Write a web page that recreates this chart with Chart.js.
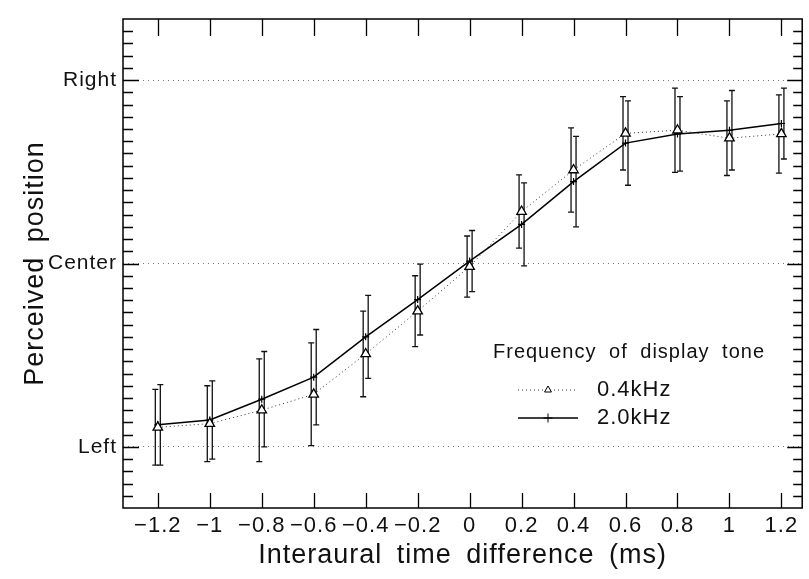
<!DOCTYPE html>
<html><head><meta charset="utf-8">
<script src="https://cdn.jsdelivr.net/npm/chart.js@4/dist/chart.umd.min.js"></script>
<style>html,body{margin:0;padding:0;background:#fff}#wrap{width:809px;height:579px}</style>
</head><body><div id="wrap"><canvas id="c" width="809" height="579"></canvas></div>
<script>
// ---- data ----
const itd = [-1.2, -1, -0.8, -0.6, -0.4, -0.2, 0, 0.2, 0.4, 0.6, 0.8, 1, 1.2];
const pos04 = [-13.4, -13.1, -12.0, -10.7, -7.4, -3.9, -0.25, 4.25, 7.65, 10.65, 10.9, 10.25, 10.6];
const err04 = [3.1, 3.1, 4.2, 4.2, 3.5, 2.9, 2.5, 3.0, 3.45, 3.0, 3.45, 3.05, 3.2];
const pos20 = [-13.2, -12.8, -11.1, -9.3, -6.0, -2.95, 0.2, 3.2, 6.7, 9.85, 10.6, 10.9, 11.45];
const err20 = [3.3, 3.2, 3.9, 3.9, 3.4, 2.9, 2.5, 3.4, 3.7, 3.45, 3.05, 3.25, 2.9];
const seriesNames = ['0.4kHz', '2.0kHz'];
const legendTitle = 'Frequency of display tone';
const xTickValues = [-1.2, -1, -0.8, -0.6, -0.4, -0.2, 0, 0.2, 0.4, 0.6, 0.8, 1, 1.2];
const yLabelValues = [-15, 0, 15];
const yLabelTexts = ['Left', 'Center', 'Right'];
const yMinorStep = 1;
const xTitle = 'Interaural time difference (ms)';
const yTitle = 'Perceived position';

const FONT = "'Liberation Sans', Arial, Helvetica, sans-serif";
const errs = [err04, err20];
const barOffset = [-2.5, 2.5];

function fmtX(v) {
  let r = Math.round(v * 10) / 10;
  let s = String(Math.abs(r));
  return (r < 0 ? '\u2212' : '') + s;
}

const spacingPlugin = {
  id: 'spacing',
  beforeDraw(chart) {
    const ctx = chart.ctx;
    ctx.letterSpacing = '1px';
    ctx.wordSpacing = '6px';
  }
};

const errorBars = {
  id: 'errorBars',
  beforeDatasetsDraw(chart) {
    const ctx = chart.ctx, xs = chart.scales.x, ys = chart.scales.y;
    ctx.save();
    ctx.strokeStyle = '#111';
    ctx.lineWidth = 1.3;
    chart.data.datasets.forEach((ds, di) => {
      ds.data.forEach((p, i) => {
        const px = xs.getPixelForValue(p.x) + barOffset[di];
        const y1 = ys.getPixelForValue(p.y + errs[di][i]);
        const y2 = ys.getPixelForValue(p.y - errs[di][i]);
        ctx.beginPath();
        ctx.moveTo(px, y1); ctx.lineTo(px, y2);
        ctx.moveTo(px - 3, y1); ctx.lineTo(px + 3, y1);
        ctx.moveTo(px - 3, y2); ctx.lineTo(px + 3, y2);
        ctx.stroke();
      });
    });
    ctx.restore();
  }
};

const framePlugin = {
  id: 'frame',
  afterDraw(chart) {
    const ctx = chart.ctx, a = chart.chartArea, xs = chart.scales.x, ys = chart.scales.y;
    ctx.save();
    ctx.strokeStyle = '#000';
    ctx.lineWidth = 1.5;
    ctx.strokeRect(a.left, a.top, a.right - a.left, a.bottom - a.top);
    ctx.lineWidth = 1.3;
    ctx.beginPath();
    for (let v = ys.min + yMinorStep; v < ys.max; v += yMinorStep) {
      const y = Math.round(ys.getPixelForValue(v)) + 0.5;
      const major = yLabelValues.includes(v);
      ctx.moveTo(a.left, y); ctx.lineTo(a.left + (major ? 16 : 10), y);
      ctx.moveTo(a.right, y); ctx.lineTo(a.right - (major ? 15 : 9), y);
    }
    xTickValues.forEach(v => {
      const x = Math.round(xs.getPixelForValue(v)) + 0.5;
      ctx.moveTo(x, a.bottom); ctx.lineTo(x, a.bottom - 15);
      ctx.moveTo(x, a.top); ctx.lineTo(x, a.top + 17);
    });
    ctx.stroke();
    ctx.restore();
  }
};

const legendPlugin = {
  id: 'customLegend',
  afterDraw(chart) {
    const ctx = chart.ctx;
    ctx.save();
    ctx.fillStyle = '#111';
    ctx.textBaseline = 'middle';
    ctx.textAlign = 'left';
    ctx.font = '20px ' + FONT;
    ctx.fillText(legendTitle, 493, 352);
    ctx.font = '22px ' + FONT;
    const rows = [390, 418];
    const legendRadius = [4, 4.5];
    chart.data.datasets.forEach((ds, i) => {
      const y = rows[i];
      ctx.save();
      ctx.strokeStyle = ds.borderColor;
      ctx.lineWidth = ds.borderWidth;
      ctx.setLineDash(ds.borderDash || []);
      ctx.beginPath(); ctx.moveTo(518, y); ctx.lineTo(578, y); ctx.stroke();
      ctx.restore();
      ctx.save();
      ctx.fillStyle = ds.pointBackgroundColor;
      ctx.strokeStyle = ds.pointBorderColor;
      ctx.lineWidth = 1;
      Chart.helpers.drawPoint(ctx, {
        pointStyle: ds.pointStyle, radius: legendRadius[i], rotation: 0, borderWidth: 1
      }, 548, y);
      ctx.restore();
      ctx.fillStyle = '#111';
      ctx.fillText(ds.label, 597, y);
    });
    ctx.restore();
  }
};

const yTicks = [];
for (let v = -20; v <= 20; v += yMinorStep) yTicks.push(v);

new Chart(document.getElementById('c'), {
  type: 'line',
  data: {
    datasets: [
      {
        label: seriesNames[0],
        data: itd.map((x, i) => ({ x, y: pos04[i] })),
        borderColor: '#333', borderWidth: 1, borderDash: [1, 3],
        pointStyle: 'triangle', pointRadius: 5.5,
        pointBackgroundColor: '#fff', pointBorderColor: '#000', pointBorderWidth: 1.3,
        tension: 0, fill: false
      },
      {
        label: seriesNames[1],
        data: itd.map((x, i) => ({ x, y: pos20[i] })),
        borderColor: '#000', borderWidth: 1.5,
        pointStyle: 'cross', pointRadius: 3.5,
        pointBackgroundColor: '#000', pointBorderColor: '#000', pointBorderWidth: 1.2,
        tension: 0, fill: false
      }
    ]
  },
  options: {
    responsive: false, animation: false, devicePixelRatio: 1,
    layout: { padding: { top: 19, right: 3, left: 0, bottom: 0 } },
    plugins: { legend: { display: false }, tooltip: { enabled: false } },
    scales: {
      x: {
        type: 'linear', min: -1.334, max: 1.28,
        afterBuildTicks: s => { s.ticks = xTickValues.map(v => ({ value: v })); },
        afterFit: s => { s.height = 71; },
        ticks: { callback: v => fmtX(v), autoSkip: false, maxRotation: 0, padding: 5,
                 color: '#111', font: { family: FONT, size: 22 } },
        grid: { display: false, drawTicks: false },
        border: { display: false },
        title: { display: true, text: xTitle, color: '#111',
                 font: { family: FONT, size: 27 }, padding: { top: 0, bottom: 7 } }
      },
      y: {
        type: 'linear', min: -20, max: 20,
        afterBuildTicks: s => { s.ticks = yTicks.map(v => ({ value: v })); },
        afterFit: s => { s.width = 123; },
        ticks: {
          callback: v => { const k = yLabelValues.indexOf(v); return k >= 0 ? yLabelTexts[k] : ''; },
          autoSkip: false, padding: 6, color: '#111', font: { family: FONT, size: 21 }
        },
        grid: {
          display: true, drawTicks: false, lineWidth: 1,
          color: c => (c.tick && yLabelValues.includes(c.tick.value)) ? '#777' : 'rgba(0,0,0,0)'
        },
        border: { display: false, dash: [1, 4] },
        title: { display: true, text: yTitle, color: '#111',
                 font: { family: FONT, size: 27 }, padding: { top: 19, bottom: 0 } }
      }
    }
  },
  plugins: [spacingPlugin, errorBars, framePlugin, legendPlugin]
});
</script></body></html>
